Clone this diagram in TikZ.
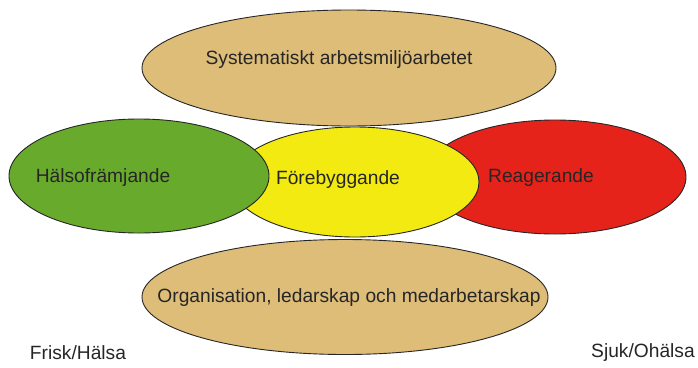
\documentclass[tikz,border=0pt]{standalone}
\usepackage{fontspec}
\setmainfont{Liberation Sans}
\usetikzlibrary{shapes.geometric}
\definecolor{tan}{HTML}{DDBD78}
\definecolor{lgreen}{HTML}{68AA2C}
\definecolor{lyellow}{HTML}{F3EA12}
\definecolor{lred}{HTML}{E6231B}
\tikzset{
  oval/.style={ellipse, draw=black!85, line width=0.9pt, inner sep=0pt},
  lbl/.style={font=\fontsize{19.2}{22}\selectfont, text=black!85, inner sep=0pt}
}
\begin{document}
\begin{tikzpicture}[x=1pt,y=-1pt]
\useasboundingbox (0,0) rectangle (698,367);
\node[oval, fill=lred, minimum width=262pt, minimum height=114pt] (red) at (555,177) {};
\node[oval, fill=lyellow, minimum width=248pt, minimum height=110pt] (yel) at (355,182) {};
\node[oval, fill=lgreen, minimum width=260pt, minimum height=114pt] (grn) at (139,176) {};
\node[oval, fill=tan, minimum width=414pt, minimum height=116pt] (top) at (349,68) {};
\node[oval, fill=tan, minimum width=406pt, minimum height=115pt] (bot) at (345,297) {};
\node[lbl] (t1) at (339,60) {Systematiskt arbetsmiljöarbetet};
\node[lbl] (t2) at (103,178) {Hälsofrämjande};
\node[lbl] (t3) at (338,180) {Förebyggande};
\node[lbl] (t4) at (541,178) {Reagerande};
\node[lbl] (t5) at (349,298) {Organisation, ledarskap och medarbetarskap};
\node[lbl] (t6) at (78,353) {Frisk/Hälsa};
\node[lbl] (t7) at (643,353) {Sjuk/Ohälsa};
\end{tikzpicture}
\end{document}
